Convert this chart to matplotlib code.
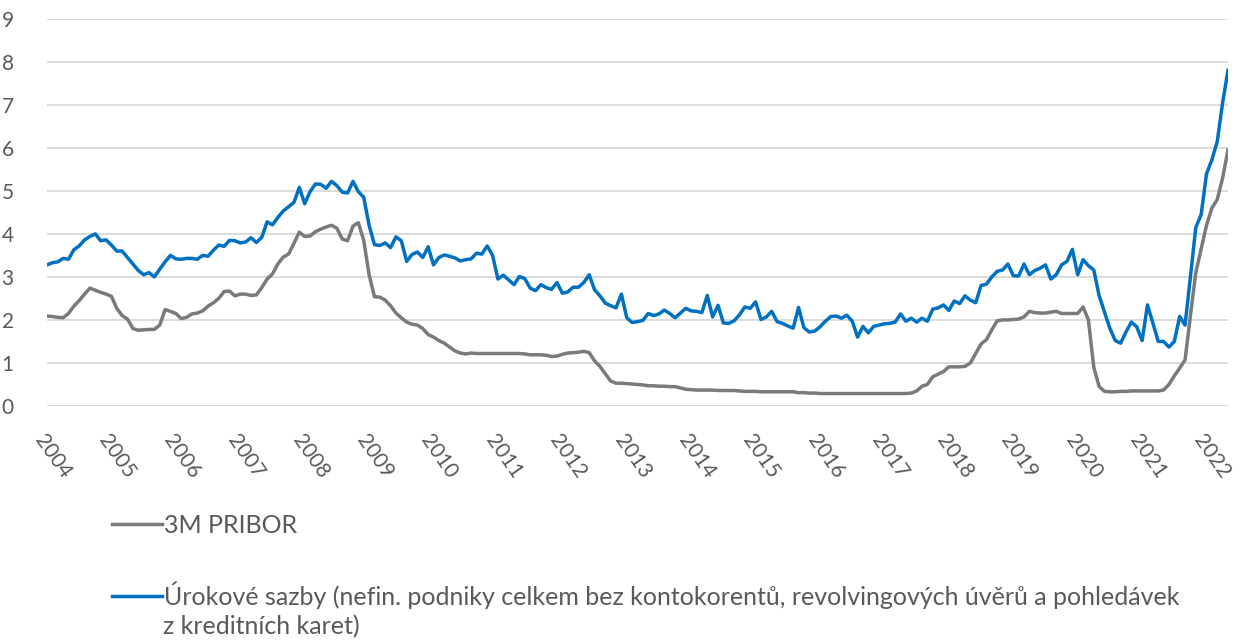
"""
Úrokové sazby nefinančních podniků vs. 3M PRIBOR (měsíčně, 2004-01 až 2022-05)
"""

import numpy as np
import matplotlib.pyplot as plt

plt.rcParams['font.family'] = ['Lato', 'DejaVu Sans']

# 3M PRIBOR (%), měsíční hodnoty od 2004-01
pribor_3m = [
    2.09, 2.08, 2.06, 2.05, 2.15, 2.32, 2.45, 2.60, 2.74, 2.69, 2.64, 2.60,  # 2004
    2.55, 2.27, 2.10, 2.02, 1.80, 1.76, 1.77, 1.78, 1.78, 1.88, 2.24, 2.20,  # 2005
    2.15, 2.03, 2.06, 2.14, 2.16, 2.21, 2.32, 2.40, 2.50, 2.66, 2.67, 2.56,  # 2006
    2.60, 2.60, 2.57, 2.58, 2.75, 2.95, 3.07, 3.30, 3.46, 3.53, 3.78, 4.04,  # 2007
    3.94, 3.95, 4.05, 4.11, 4.16, 4.20, 4.13, 3.88, 3.84, 4.18, 4.26, 3.85,  # 2008
    3.05, 2.54, 2.53, 2.46, 2.33, 2.16, 2.05, 1.95, 1.90, 1.88, 1.80, 1.66,  # 2009
    1.60, 1.52, 1.46, 1.37, 1.28, 1.23, 1.21, 1.23, 1.22, 1.22, 1.22, 1.22,  # 2010
    1.22, 1.22, 1.22, 1.22, 1.22, 1.21, 1.19, 1.19, 1.19, 1.18, 1.15, 1.16,  # 2011
    1.20, 1.23, 1.24, 1.25, 1.27, 1.24, 1.05, 0.92, 0.75, 0.58, 0.53, 0.53,  # 2012
    0.52, 0.51, 0.50, 0.49, 0.47, 0.47, 0.46, 0.46, 0.45, 0.45, 0.42, 0.39,  # 2013
    0.38, 0.37, 0.37, 0.37, 0.37, 0.36, 0.36, 0.36, 0.36, 0.35, 0.34, 0.34,  # 2014
    0.34, 0.33, 0.33, 0.33, 0.33, 0.33, 0.33, 0.33, 0.31, 0.31, 0.30, 0.30,  # 2015
    0.29, 0.29, 0.29, 0.29, 0.29, 0.29, 0.29, 0.29, 0.29, 0.29, 0.29, 0.29,  # 2016
    0.29, 0.29, 0.29, 0.29, 0.29, 0.30, 0.35, 0.46, 0.50, 0.68, 0.74, 0.80,  # 2017
    0.91, 0.91, 0.91, 0.92, 1.00, 1.22, 1.44, 1.54, 1.77, 1.98, 2.00, 2.00,  # 2018
    2.01, 2.02, 2.07, 2.20, 2.17, 2.16, 2.16, 2.18, 2.20, 2.15, 2.15, 2.15,  # 2019
    2.15, 2.30, 2.00, 0.90, 0.45, 0.34, 0.33, 0.33, 0.34, 0.34, 0.35, 0.35,  # 2020
    0.35, 0.35, 0.35, 0.35, 0.37, 0.50, 0.70, 0.88, 1.07, 2.10, 3.10, 3.65,  # 2021
    4.20, 4.60, 4.80, 5.30, 5.95,                                            # 2022
]

# Úrokové sazby nefin. podniků (%), měsíční hodnoty od 2004-01
urokove_sazby = [
    3.28, 3.33, 3.35, 3.43, 3.41, 3.63, 3.72, 3.86, 3.94, 4.00, 3.84, 3.86,  # 2004
    3.74, 3.60, 3.60, 3.45, 3.30, 3.15, 3.05, 3.10, 3.00, 3.18, 3.35, 3.50,  # 2005
    3.42, 3.41, 3.43, 3.43, 3.41, 3.50, 3.48, 3.62, 3.74, 3.71, 3.85, 3.84,  # 2006
    3.79, 3.81, 3.91, 3.80, 3.92, 4.28, 4.21, 4.38, 4.53, 4.63, 4.73, 5.08,  # 2007
    4.70, 4.98, 5.16, 5.15, 5.06, 5.22, 5.12, 4.97, 4.95, 5.22, 4.98, 4.85,  # 2008
    4.20, 3.75, 3.73, 3.79, 3.68, 3.93, 3.84, 3.36, 3.52, 3.58, 3.45, 3.70,  # 2009
    3.28, 3.45, 3.51, 3.48, 3.44, 3.37, 3.40, 3.42, 3.55, 3.53, 3.72, 3.50,  # 2010
    2.95, 3.04, 2.93, 2.82, 3.01, 2.96, 2.74, 2.68, 2.82, 2.75, 2.71, 2.87,  # 2011
    2.62, 2.65, 2.76, 2.76, 2.87, 3.05, 2.70, 2.56, 2.39, 2.33, 2.28, 2.60,  # 2012
    2.05, 1.94, 1.96, 1.99, 2.15, 2.10, 2.14, 2.23, 2.15, 2.05, 2.16, 2.27,  # 2013
    2.21, 2.20, 2.17, 2.57, 2.07, 2.34, 1.93, 1.92, 1.98, 2.12, 2.30, 2.27,  # 2014
    2.42, 2.01, 2.07, 2.20, 1.96, 1.92, 1.86, 1.81, 2.29, 1.82, 1.72, 1.74,  # 2015
    1.84, 1.97, 2.08, 2.09, 2.04, 2.11, 1.97, 1.60, 1.85, 1.70, 1.85, 1.88,  # 2016
    1.91, 1.92, 1.95, 2.14, 1.97, 2.04, 1.95, 2.04, 1.97, 2.25, 2.28, 2.35,  # 2017
    2.22, 2.44, 2.38, 2.56, 2.46, 2.40, 2.80, 2.83, 3.00, 3.13, 3.16, 3.30,  # 2018
    3.03, 3.02, 3.30, 3.05, 3.15, 3.20, 3.28, 2.95, 3.05, 3.28, 3.36, 3.64,  # 2019
    3.05, 3.40, 3.26, 3.16, 2.56, 2.18, 1.80, 1.52, 1.46, 1.72, 1.95, 1.84,  # 2020
    1.52, 2.35, 1.93, 1.50, 1.50, 1.37, 1.50, 2.08, 1.88, 3.00, 4.15, 4.45,  # 2021
    5.40, 5.72, 6.15, 7.05, 7.80,                                            # 2022
]

roky = [str(r) for r in range(2004, 2023)]
y_ticks = list(range(0, 10))
popisky = ['3M PRIBOR',
           'Úrokové sazby (nefin. podniky celkem bez kontokorentů, revolvingových úvěrů a pohledávek',
           'z kreditních karet)']

mesice = np.arange(len(pribor_3m))

fig = plt.figure(figsize=(12.39, 6.42), dpi=100)
ax = fig.add_axes([47 / 1239, (642 - 406) / 642, (1228 - 47) / 1239, (406 - 18.7) / 642])

l1, = ax.plot(mesice, pribor_3m, color='#7a7a7a', lw=2.5)
l2, = ax.plot(mesice, urokove_sazby, color='#0070c0', lw=2.5)

ax.set_xlim(0, len(mesice) - 1)
ax.set_ylim(0, 9)
ax.set_yticks(y_ticks)
ax.set_yticklabels([str(v) for v in y_ticks])
ax.grid(axis='y', color='#d9d9d9', lw=1.3)
ax.set_axisbelow(True)

ax.set_xticks(np.arange(0, len(mesice), 12))
ax.set_xticklabels(roky, rotation=-55, ha='left', va='top', rotation_mode='anchor')

for s in ax.spines.values():
    s.set_visible(False)
ax.tick_params(axis='both', length=0, colors='#595959', labelsize=15)
ax.tick_params(axis='y', pad=24)
ax.tick_params(axis='x', pad=18)

# legenda pod grafem, druhý řádek popisku zvlášť (značka u prvního řádku)
ax.legend([l1, l2], popisky[:2], loc='upper left',
          bbox_to_anchor=(112 / 1239, 1 - 514 / 642),
          bbox_transform=fig.transFigure, frameon=False, fontsize=18,
          labelcolor='#595959', handlelength=2.0, handletextpad=0.1,
          labelspacing=1.78, borderpad=0, borderaxespad=0)
fig.text(163 / 1239, 1 - 627 / 642, popisky[2], fontsize=18, color='#595959',
         ha='left', va='center')

plt.savefig('out.png', dpi=100)
